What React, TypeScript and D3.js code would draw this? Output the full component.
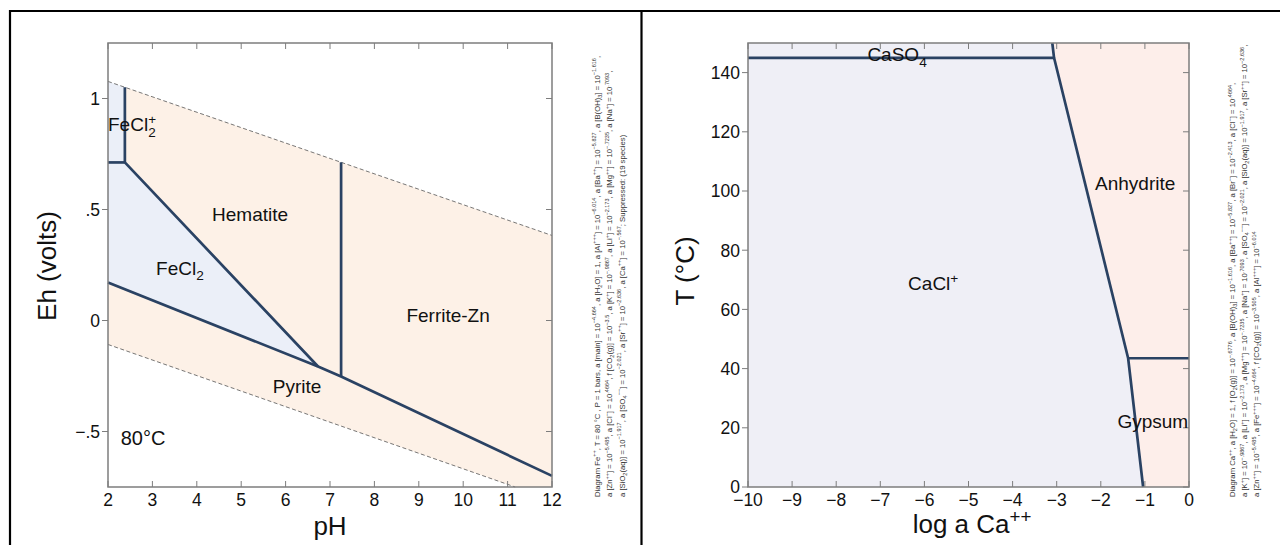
import React from "react";
import * as d3 from "d3";

// ---------- Left chart data (Eh–pH, Fe++ at 80 °C) ----------
const phTicks = [2, 3, 4, 5, 6, 7, 8, 9, 10, 11, 12];
const ehTicks = [-0.5, 0, 0.5, 1];
const ehTickLabels = ["−.5", "0", ".5", "1"];
const waterUpper: [number, number][] = [[2, 1.077], [12, 0.383]];
const waterLower: [number, number][] = [[2, -0.108], [11.17, -0.75]];
const feCl2PlusRegion: [number, number][] = [[2, 0.712], [2.38, 0.712], [2.38, 1.0506], [2, 1.077]];
const feCl2Region: [number, number][] = [[2, 0.712], [2.38, 0.712], [6.73, -0.207], [2, 0.171]];
const hematiteRegion: [number, number][] = [[2.38, 0.712], [2.38, 1.0506], [7.25, 0.7127], [7.25, -0.252], [6.73, -0.207]];
const ferriteRegion: [number, number][] = [[7.25, 0.7127], [12, 0.383], [12, -0.7], [7.25, -0.252]];
const pyriteRegion: [number, number][] = [[2, 0.171], [6.73, -0.207], [7.25, -0.252], [12, -0.7], [12, -0.75], [11.17, -0.75], [2, -0.108]];
const leftBoundaries: [number, number][][] = [
  [[2, 0.712], [2.38, 0.712]],
  [[2.38, 1.0506], [2.38, 0.712], [6.73, -0.207]],
  [[2, 0.171], [6.73, -0.207], [7.25, -0.252], [12, -0.7]],
  [[7.25, 0.7127], [7.25, -0.252]],
];
const leftLabels = [
  { text: "Hematite", x: 5.2, y: 0.45 },
  { text: "FeCl_{2}", x: 3.62, y: 0.207 },
  { text: "Ferrite-Zn", x: 9.66, y: -0.005 },
  { text: "Pyrite", x: 6.26, y: -0.325 },
];
const leftNote = [
  "Diagram Fe^{++}, T = 80 °C , P = 1 bars, a [main] = 10^{−4.664}, a [H_{2}O] = 1, a [Al^{+++}] = 10^{−6.014}, a [Ba^{++}] = 10^{−5.827}, a [B(OH)_{3}] = 10^{−1.616},",
  "a [Zn^{++}] = 10^{−5.485}, a [Cl^{−}] = 10^{.4664}, f [CO_{2}(g)] = 10^{−3.5}, a [K^{+}] = 10^{−.9867}, a [Li^{+}] = 10^{−2.173}, a [Mg^{++}] = 10^{−.7235}, a [Na^{+}] = 10^{.7093},",
  "a [SiO_{2}(aq)] = 10^{−1.917}, a [SO_{4}^{−−}] = 10^{−2.021}, a [Sr^{++}] = 10^{−2.636}, a [Ca^{++}] = 10^{−.567}; Suppressed: (19 species)",
];

// ---------- Right chart data (T vs log a Ca++) ----------
const caTicks = [-10, -9, -8, -7, -6, -5, -4, -3, -2, -1, 0];
const caTickLabels = ["−10", "−9", "−8", "−7", "−6", "−5", "−4", "−3", "−2", "−1", "0"];
const tTicks = [0, 20, 40, 60, 80, 100, 120, 140];
const aqueousRegion: [number, number][] = [[-10, 0], [-1.04, 0], [-1.38, 43.5], [-3.06, 145], [-3.1, 150], [-10, 150]];
const mineralRegion: [number, number][] = [[-1.04, 0], [0, 0], [0, 150], [-3.1, 150], [-3.06, 145], [-1.38, 43.5]];
const rightBoundaries: [number, number][][] = [
  [[-1.04, 0], [-1.38, 43.5], [-3.06, 145], [-3.1, 150]],
  [[-10, 145], [-3.06, 145]],
  [[-1.38, 43.5], [0, 43.5]],
];
const rightLabels = [
  { text: "CaSO_{4}", x: -6.62, y: 143.8 },
  { text: "CaCl^{+}", x: -5.8, y: 66.5 },
  { text: "Anhydrite", x: -1.22, y: 100.5 },
  { text: "Gypsum", x: -0.82, y: 19.8 },
];
const rightNote = [
  "Diagram Ca^{++}, a [H_{2}O] = 1, f [O_{2}(g)] = 10^{−.6776}, a [B(OH)_{3}] = 10^{−1.616}, a [Ba^{++}] = 10^{−5.827}, a [Br^{−}] = 10^{−2.413}, a [Cl^{−}] = 10^{.4664},",
  "a [K^{+}] = 10^{−.9867}, a [Li^{+}] = 10^{−2.173}, a [Mg^{++}] = 10^{−.7235}, a [Na^{+}] = 10^{.7093}, a [SO_{4}^{−−}] = 10^{−2.021}, a [SiO_{2}(aq)] = 10^{−1.917}, a [Sr^{++}] = 10^{−2.636},",
  "a [Zn^{++}] = 10^{−5.485}, a [Fe^{+++}] = 10^{−4.664}, f [CO_{2}(g)] = 10^{−3.505}, a [Al^{+++}] = 10^{−6.014}",
];

const FONT = "'Liberation Sans', Arial, Helvetica, sans-serif";
const LINE = "#2a4263";
const FRAME = "#7d7d7d";
const BEIGE = "#fdf1e7";
const BLUE = "#ebeff8";
const LAVENDER = "#efeff6";
const PINK = "#fdeeea";

type Part = { t: string; k: "n" | "sup" | "sub" };
function parse(s: string): Part[] {
  const out: Part[] = [];
  let i = 0;
  let buf = "";
  while (i < s.length) {
    const c = s[i];
    if ((c === "^" || c === "_") && s[i + 1] === "{") {
      if (buf) out.push({ t: buf, k: "n" });
      buf = "";
      const end = s.indexOf("}", i);
      out.push({ t: s.slice(i + 2, end), k: c === "^" ? "sup" : "sub" });
      i = end + 1;
    } else {
      buf += c;
      i++;
    }
  }
  if (buf) out.push({ t: buf, k: "n" });
  return out;
}

function Rich(props: {
  text: string;
  x?: number;
  y?: number;
  fs: number;
  anchor?: string;
  transform?: string;
  fill?: string;
}) {
  const { text, x = 0, y = 0, fs, anchor = "start", transform, fill = "#111" } = props;
  const parts = parse(text);
  let cur = 0;
  return (
    <text x={x} y={y} fontSize={fs} textAnchor={anchor} transform={transform} fill={fill} fontFamily={FONT}>
      {parts.map((p, i) => {
        const target = p.k === "sup" ? -0.4 * fs : p.k === "sub" ? 0.3 * fs : 0;
        const dy = target - cur;
        cur = target;
        return (
          <tspan key={i} dy={dy} fontSize={p.k === "n" ? fs : fs * 0.72}>
            {p.t}
          </tspan>
        );
      })}
    </text>
  );
}

function Frame(props: {
  x: d3.ScaleLinear<number, number>;
  y: d3.ScaleLinear<number, number>;
  xt: number[];
  xl: string[];
  yt: number[];
  yl: string[];
}) {
  const { x, y, xt, xl, yt, yl } = props;
  const [x0, x1] = x.range();
  const [y0, y1] = y.range();
  const T = 6;
  return (
    <g>
      <rect x={x0} y={y1} width={x1 - x0} height={y0 - y1} fill="none" stroke={FRAME} strokeWidth={1.5} />
      {xt.map((v, i) => (
        <g key={"x" + i}>
          <line x1={x(v)} x2={x(v)} y1={y0} y2={y0 - T} stroke={FRAME} strokeWidth={1} />
          <line x1={x(v)} x2={x(v)} y1={y1} y2={y1 + T} stroke={FRAME} strokeWidth={1} />
          <text x={x(v)} y={y0 + 19} fontSize={17.5} textAnchor="middle" fontFamily={FONT} fill="#111">
            {xl[i]}
          </text>
        </g>
      ))}
      {yt.map((v, i) => (
        <g key={"y" + i}>
          <line x1={x0} x2={x0 - T} y1={y(v)} y2={y(v)} stroke={FRAME} strokeWidth={1} />
          <line x1={x1} x2={x1 - T} y1={y(v)} y2={y(v)} stroke={FRAME} strokeWidth={1} />
          <text x={x0 - 8} y={y(v) + 6.3} fontSize={17.5} textAnchor="end" fontFamily={FONT} fill="#111">
            {yl[i]}
          </text>
        </g>
      ))}
    </g>
  );
}

export default function App() {
  const xL = d3.scaleLinear().domain([2, 12]).range([108, 552]);
  const yL = d3.scaleLinear().domain([-0.75, 1.25]).range([487, 43]);
  const xR = d3.scaleLinear().domain([-10, 0]).range([748, 1189]);
  const yR = d3.scaleLinear().domain([0, 150]).range([487, 43]);

  const lineL = d3.line<[number, number]>().x((d) => xL(d[0])).y((d) => yL(d[1]));
  const lineR = d3.line<[number, number]>().x((d) => xR(d[0])).y((d) => yR(d[1]));
  const polyL = (pts: [number, number][]) => lineL(pts) + "Z";
  const polyR = (pts: [number, number][]) => lineR(pts) + "Z";

  const noteFs = 7.7;

  return (
    <div style={{ position: "fixed", left: 0, top: 0 }}>
      <svg width={1280} height={545} style={{ display: "block", background: "#fff" }}>
        {/* outer black borders */}
        <line x1={10} x2={10} y1={10} y2={545} stroke="#000" strokeWidth={2.2} />
        <line x1={9} x2={1280} y1={11} y2={11} stroke="#000" strokeWidth={2.2} />
        <line x1={641.5} x2={641.5} y1={10} y2={545} stroke="#000" strokeWidth={2.2} />

        {/* ---------- Left chart ---------- */}
        <g>
          <path d={polyL(hematiteRegion)} fill={BEIGE} />
          <path d={polyL(ferriteRegion)} fill={BEIGE} />
          <path d={polyL(pyriteRegion)} fill={BEIGE} />
          <path d={polyL(feCl2Region)} fill={BLUE} />
          <path d={polyL(feCl2PlusRegion)} fill={BLUE} />
          <path d={lineL(waterUpper) || ""} fill="none" stroke="#555" strokeWidth={0.8} strokeDasharray="4,2.5" />
          <path d={lineL(waterLower) || ""} fill="none" stroke="#555" strokeWidth={0.8} strokeDasharray="4,2.5" />
          {leftBoundaries.map((b, i) => (
            <path key={i} d={lineL(b) || ""} fill="none" stroke={LINE} strokeWidth={2.7} strokeLinejoin="round" />
          ))}
          <Frame x={xL} y={yL} xt={phTicks} xl={phTicks.map(String)} yt={ehTicks} yl={ehTickLabels} />
          {/* FeCl2+ label with stacked sub/sup */}
          <text x={xL(2)} y={yL(0.853)} fontSize={19} fontFamily={FONT} fill="#111">
            <tspan>FeCl</tspan>
            <tspan fontSize={13.5} dy={5.5}>2</tspan>
            <tspan fontSize={13.5} dx={-7.5} dy={-13}>+</tspan>
          </text>
          {leftLabels.map((l, i) => (
            <Rich key={i} text={l.text} x={xL(l.x)} y={yL(l.y)} fs={19} anchor="middle" />
          ))}
          <text x={xL(2.79)} y={yL(-0.563)} fontSize={20} textAnchor="middle" fontFamily={FONT} fill="#111">
            80°C
          </text>
          <text x={330} y={535} fontSize={26} textAnchor="middle" fontFamily={FONT} fill="#111">
            pH
          </text>
          <text transform="translate(56,266) rotate(-90)" fontSize={26} textAnchor="middle" fontFamily={FONT} fill="#111">
            Eh (volts)
          </text>
          {leftNote.map((s, i) => (
            <Rich key={i} text={s} fs={noteFs} transform={`translate(${599.5 + i * 12.5},497) rotate(-90)`} fill="#333" />
          ))}
        </g>

        {/* ---------- Right chart ---------- */}
        <g>
          <path d={polyR(aqueousRegion)} fill={LAVENDER} />
          <path d={polyR(mineralRegion)} fill={PINK} />
          {rightBoundaries.map((b, i) => (
            <path key={i} d={lineR(b) || ""} fill="none" stroke={LINE} strokeWidth={2.7} strokeLinejoin="round" />
          ))}
          <Frame x={xR} y={yR} xt={caTicks} xl={caTickLabels} yt={tTicks} yl={tTicks.map(String)} />
          {rightLabels.map((l, i) => (
            <Rich key={i} text={l.text} x={xR(l.x)} y={yR(l.y)} fs={19} anchor="middle" />
          ))}
          <Rich text="log a Ca^{++}" x={972} y={533} fs={26} anchor="middle" />
          <text transform="translate(694,271) rotate(-90)" fontSize={26} textAnchor="middle" fontFamily={FONT} fill="#111">
            T (°C)
          </text>
          {rightNote.map((s, i) => (
            <Rich key={i} text={s} fs={noteFs} transform={`translate(${1235 + i * 12},497) rotate(-90)`} fill="#333" />
          ))}
        </g>
      </svg>
    </div>
  );
}
